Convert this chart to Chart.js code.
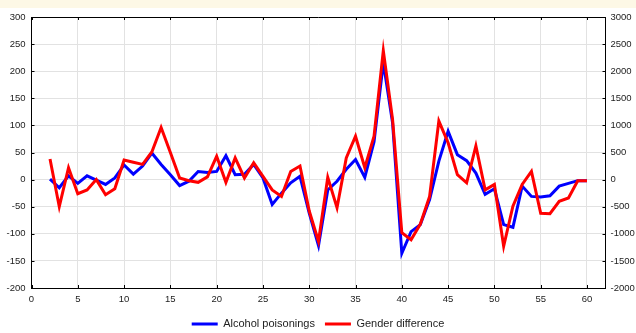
<!DOCTYPE html>
<html>
<head>
<meta charset="utf-8">
<script src="https://cdn.jsdelivr.net/npm/chart.js@4/dist/chart.umd.min.js"></script>
<style>
  html, body { margin: 0; padding: 0; background: #ffffff; }
  #wrap { position: relative; width: 636px; height: 333px; }
  #strip { position: absolute; left: 0; top: 0; width: 636px; height: 8px; background: #fdf8e6; }
  #c { position: absolute; left: 0; top: 0; }
</style>
</head>
<body>
<div id="wrap">
  <div id="strip"></div>
  <canvas id="c" width="636" height="333"></canvas>
</div>
<script>
// Day index (x values)
const days = [2,3,4,5,6,7,8,9,10,11,12,13,14,15,16,17,18,19,20,21,22,23,24,25,26,27,28,29,30,31,32,33,34,35,36,37,38,39,40,41,42,43,44,45,46,47,48,49,50,51,52,53,54,55,56,57,58,59,60];

// Alcohol poisonings (left axis)
const alcoholPoisonings = [1,-15,7,-7,7,-1,-9,3,27,10,25,49,28,9,-11,-3,15,13,15,44,9,10,28,3,-46,-25,-6,6,-62,-122,-19,-3,19,37,4,70,216,105,-136,-96,-83,-37,34,89,46,35,12,-27,-17,-83,-88,-12,-31,-32,-30,-12,-7,-2,-2];

// Gender difference (right axis)
const genderDifference = [380,-500,220,-260,-190,0,-280,-170,360,320,280,510,960,500,30,-20,-50,50,430,-50,400,30,310,60,-190,-310,150,250,-580,-1140,40,-520,400,800,220,800,2380,1110,-980,-1110,-820,-310,1080,680,90,-60,620,-190,-90,-1230,-490,-90,150,-620,-630,-400,-340,-20,-20];

const seriesNames = ["Alcohol poisonings", "Gender difference"];

const leftTicks = { min: -200, max: 300, step: 50 };
const rightTicks = { min: -2000, max: 3000, step: 500 };
const xTicks = { min: 0, max: 62, step: 5 };

const tickFont = { family: "'Liberation Sans', Arial, sans-serif", size: 9.5 };
const legendFont = { family: "'Liberation Sans', Arial, sans-serif", size: 11 };
const plain = v => String(v);

const framePlugin = {
  id: 'frame',
  beforeLayout(chart) {
    const lg = chart.legend;
    if (lg && !lg._patched) {
      const f = lg.fit.bind(lg);
      lg.fit = function () { f(); this.height = 24.5; };
      lg._patched = true;
    }
  },
  afterDatasetsDraw(chart) {
    const ctx = chart.ctx, a = chart.chartArea;
    const xs = chart.scales.x, yl = chart.scales.y, yr = chart.scales.y2;
    ctx.save();
    ctx.strokeStyle = '#000';
    ctx.lineWidth = 1;
    ctx.beginPath();
    xs.ticks.forEach(t => {
      const px = Math.round(xs.getPixelForValue(t.value)) + 0.5;
      ctx.moveTo(px, a.bottom); ctx.lineTo(px, a.bottom - 3);
      ctx.moveTo(px, a.top); ctx.lineTo(px, a.top + 3);
    });
    yl.ticks.forEach(t => {
      const py = Math.round(yl.getPixelForValue(t.value)) + 0.5;
      ctx.moveTo(a.left, py); ctx.lineTo(a.left + 3, py);
    });
    yr.ticks.forEach(t => {
      const py = Math.round(yr.getPixelForValue(t.value)) + 0.5;
      ctx.moveTo(a.right, py); ctx.lineTo(a.right - 3, py);
    });
    ctx.stroke();
    ctx.beginPath();
    ctx.moveTo(a.left, Math.round(a.top) + 0.5);
    ctx.lineTo(a.right, Math.round(a.top) + 0.5);
    ctx.stroke();
    ctx.restore();
  }
};

new Chart(document.getElementById('c'), {
  type: 'line',
  data: {
    datasets: [
      {
        label: seriesNames[0],
        data: days.map((d, i) => ({ x: d, y: alcoholPoisonings[i] })),
        borderColor: '#0000ff',
        backgroundColor: '#0000ff',
        borderWidth: 3,
        pointRadius: 0,
        tension: 0,
        yAxisID: 'y',
        order: 2
      },
      {
        label: seriesNames[1],
        data: days.map((d, i) => ({ x: d, y: genderDifference[i] })),
        borderColor: '#ff0000',
        backgroundColor: '#ff0000',
        borderWidth: 3,
        pointRadius: 0,
        tension: 0,
        yAxisID: 'y2',
        order: 1
      }
    ]
  },
  options: {
    responsive: false,
    animation: false,
    layout: { padding: { top: 17, left: 0, right: 0, bottom: 0 } },
    plugins: {
      tooltip: { enabled: false },
      legend: {
        position: 'bottom',
        labels: {
          font: legendFont,
          color: '#222',
          boxWidth: 26,
          boxHeight: 3,
          padding: 10,
          sort: (a, b) => a.datasetIndex - b.datasetIndex,
          generateLabels(chart) {
            const items = Chart.defaults.plugins.legend.labels.generateLabels(chart);
            return items.map(it => Object.assign({}, it, { fillStyle: it.strokeStyle, lineWidth: 0 }));
          }
        }
      }
    },
    scales: {
      x: {
        type: 'linear',
        position: 'bottom',
        min: xTicks.min,
        max: xTicks.max,
        ticks: { stepSize: xTicks.step, includeBounds: false, font: tickFont, color: '#222', padding: 6, maxRotation: 0, callback: plain },
        grid: { color: '#e2e2e2', drawTicks: false },
        border: { color: '#000', width: 1 },
        afterFit(s) { s.height = 20.5; }
      },
      y: {
        position: 'left',
        min: leftTicks.min,
        max: leftTicks.max,
        ticks: { stepSize: leftTicks.step, font: tickFont, color: '#222', padding: 6, callback: plain },
        grid: { color: '#e2e2e2', drawTicks: false },
        border: { color: '#000', width: 1 },
        afterFit(s) { s.width = 31.5; }
      },
      y2: {
        position: 'right',
        min: rightTicks.min,
        max: rightTicks.max,
        ticks: { stepSize: rightTicks.step, font: tickFont, color: '#222', padding: 5, callback: plain },
        grid: { drawOnChartArea: false, drawTicks: false },
        border: { color: '#000', width: 1 },
        afterFit(s) { s.width = 30.5; }
      }
    }
  },
  plugins: [framePlugin]
});
</script>
</body>
</html>
